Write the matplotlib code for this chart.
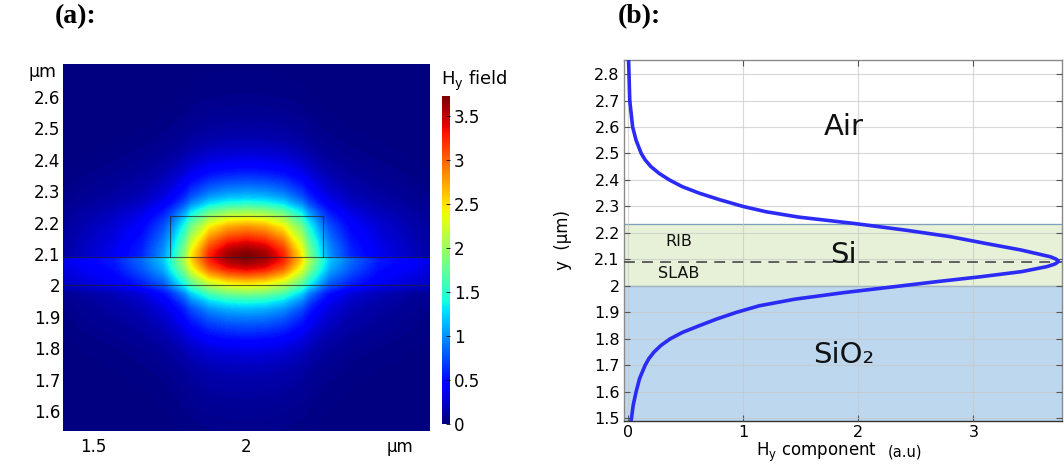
import matplotlib.pyplot as plt
import numpy as np
from matplotlib.cm import ScalarMappable
from matplotlib.colors import Normalize

plt.rcParams['font.family'] = ['DejaVu Sans']

# (b) Hy line profile through the waveguide centre
y_um = [1.49, 1.5, 1.55, 1.6, 1.65, 1.7, 1.725, 1.75, 1.775, 1.8, 1.825, 1.85, 1.875,
        1.9, 1.925, 1.95, 1.975,
        2.0, 2.016, 2.035, 2.054, 2.073, 2.083, 2.092, 2.101, 2.11, 2.136, 2.161,
        2.186, 2.21, 2.235, 2.26, 2.28, 2.3, 2.325, 2.35, 2.375, 2.4, 2.425, 2.45,
        2.475, 2.5, 2.55, 2.6, 2.7, 2.85]
hy = [0.025, 0.03, 0.045, 0.07, 0.1, 0.148, 0.18, 0.225, 0.285, 0.365, 0.475, 0.62, 0.77,
      0.94, 1.14, 1.45, 1.88,
      2.37, 2.68, 3.07, 3.42, 3.64, 3.71, 3.74, 3.72, 3.67, 3.41, 3.1,
      2.8, 2.42, 1.98, 1.48, 1.2, 1.0, 0.8, 0.62, 0.47, 0.36, 0.27, 0.2,
      0.15, 0.115, 0.07, 0.04, 0.015, 0.005]

# (a) lateral decay of the field (fraction of the centre value) vs distance from x = 2 um
x_offset = [0.0, 0.06, 0.12, 0.15, 0.18, 0.2, 0.24, 0.27, 0.34, 0.43, 0.6]
fx_core = [1.0, 0.97, 0.87, 0.75, 0.65, 0.52, 0.36, 0.27, 0.16, 0.1, 0.03]
fx_slab = [1.0, 0.97, 0.88, 0.78, 0.68, 0.57, 0.42, 0.32, 0.23, 0.15, 0.09]

# geometry
x_centre = 2.0
slab_bottom, slab_top, rib_top = 2.0, 2.09, 2.22
rib_left, rib_right = 1.75, 2.25
si_top_b = 2.235

cbar_ticks = [0, 0.5, 1, 1.5, 2, 2.5, 3, 3.5]
a_yticks = [1.6, 1.7, 1.8, 1.9, 2.0, 2.1, 2.2, 2.3, 2.4, 2.5, 2.6]
a_xticks = [1.5, 2.0, 2.5]
a_xticklabels = ['1.5', '2', 'µm']
b_yticks = [1.5, 1.6, 1.7, 1.8, 1.9, 2.0, 2.1, 2.2, 2.3, 2.4, 2.5, 2.6, 2.7, 2.8]
b_xticks = [0, 1, 2, 3]

W, H = 1064, 468
fig = plt.figure(figsize=(W / 100, H / 100), dpi=100)


def box(l, t, r, b):
    return [l / W, 1 - b / H, (r - l) / W, (b - t) / H]


# ---------------- (a) field map ----------------
ax1 = fig.add_axes(box(63, 64, 430, 431))
off = np.array(x_offset)
xs = np.concatenate([x_centre - off[::-1], x_centre + off[1:]])
fc = np.concatenate([np.array(fx_core)[::-1], np.array(fx_core)[1:]])
fs = np.concatenate([np.array(fx_slab)[::-1], np.array(fx_slab)[1:]])
ys = np.array(y_um)
in_slab = (ys >= slab_bottom) & (ys <= slab_top)
Z = np.array(hy)[:, None] * np.where(in_slab[:, None], fs[None, :], fc[None, :])
vmax = 3.73
ax1.contourf(xs, ys, Z, levels=np.linspace(0, vmax, 200), cmap='jet',
             vmin=0, vmax=vmax, extend='both')
lk = dict(color='#222222', lw=0.8, alpha=0.7)
ax1.axhline(slab_bottom, **lk)
ax1.axhline(slab_top, **lk)
ax1.plot([rib_left, rib_left, rib_right, rib_right],
         [slab_top, rib_top, rib_top, slab_top], **lk)
ax1.set_xlim(1.402, 2.598)
ax1.set_ylim(1.536, 2.705)
ax1.set_yticks(a_yticks)
ax1.set_yticklabels(['%g' % v for v in a_yticks])
ax1.set_xticks(a_xticks)
ax1.set_xticklabels(a_xticklabels)
ax1.tick_params(length=0, labelsize=12)
ax1.tick_params(axis='y', pad=2)
ax1.tick_params(axis='x', pad=5)
for s in ax1.spines.values():
    s.set_visible(False)
ax1.text(-0.017, 2.68, 'µm', transform=ax1.get_yaxis_transform(), ha='right', va='center',
         fontsize=12.5)

cax = fig.add_axes(box(442, 96, 450, 424))
cb = fig.colorbar(ScalarMappable(Normalize(0, vmax), 'jet'), cax=cax, ticks=cbar_ticks)
cb.set_ticklabels(['%g' % v for v in cbar_ticks])
cb.outline.set_visible(False)
cax.tick_params(length=3, width=0.6, direction='in', labelsize=12, pad=3)
fig.text(441 / W, 1 - 81 / H, r'H$_\mathregular{y}$ field', fontsize=13, ha='left', va='center')

# ---------------- (b) line profile ----------------
ax2 = fig.add_axes(box(624, 60, 1062, 421))
ax2.axhspan(1.49, slab_bottom, color='#bdd7ee', zorder=0)
ax2.axhspan(slab_bottom, si_top_b, color='#e6f1d8', zorder=0)
ax2.axhline(slab_bottom, color='#4f81bd', lw=0.9, zorder=1)
ax2.axhline(si_top_b, color='#7f9fbf', lw=0.9, zorder=1)
ax2.axhline(slab_top, color='#555555', lw=1.3, ls=(0, (6, 4)), zorder=3)
ax2.plot(hy, y_um, color='#2b2bf5', lw=2.6, zorder=4, solid_joinstyle='round')
ax2.set_axisbelow(False)
ax2.grid(True, color='#c8c8c8', lw=0.8, alpha=0.7)
ax2.set_xlim(-0.035, 3.77)
ax2.set_ylim(1.49, 2.853)
ax2.set_yticks(b_yticks)
ax2.set_yticklabels(['%g' % v for v in b_yticks])
ax2.set_xticks(b_xticks)
ax2.tick_params(direction='in', length=4, top=True, right=True, color='#555555',
                labelsize=11.5, pad=3)
for s in ax2.spines.values():
    s.set_color('#8a8a8a')
    s.set_linewidth(1.0)
ax2.spines['bottom'].set_color('#333333')
ax2.set_ylabel('y  (µm)', fontsize=12, labelpad=16)

tk = dict(ha='center', va='center', zorder=5, color='#111111')
ax2.text(1.87, 2.6, 'Air', fontsize=21, **tk)
ax2.text(1.87, 2.117, 'Si', fontsize=21, **tk)
ax2.text(1.87, 1.74, 'SiO₂', fontsize=21, **tk)
ax2.text(0.44, 2.167, 'RIB', fontsize=11.5, **tk)
ax2.text(0.44, 2.048, 'SLAB', fontsize=11.5, **tk)

fig.text(877 / W, 1 - 452 / H, r'H$_\mathregular{y}$ component', fontsize=12, ha='right', va='center')
fig.text(888 / W, 1 - 452 / H, '(a.u)', fontsize=10.5, ha='left', va='center')

# panel letters
fig.text(76 / W, 1 - 17 / H, '(a):', family='Liberation Serif', weight='bold', fontsize=20,
         ha='center', va='center')
fig.text(639 / W, 1 - 17 / H, '(b):', family='Liberation Serif', weight='bold', fontsize=20,
         ha='center', va='center')

fig.savefig('out.png', dpi=100)
